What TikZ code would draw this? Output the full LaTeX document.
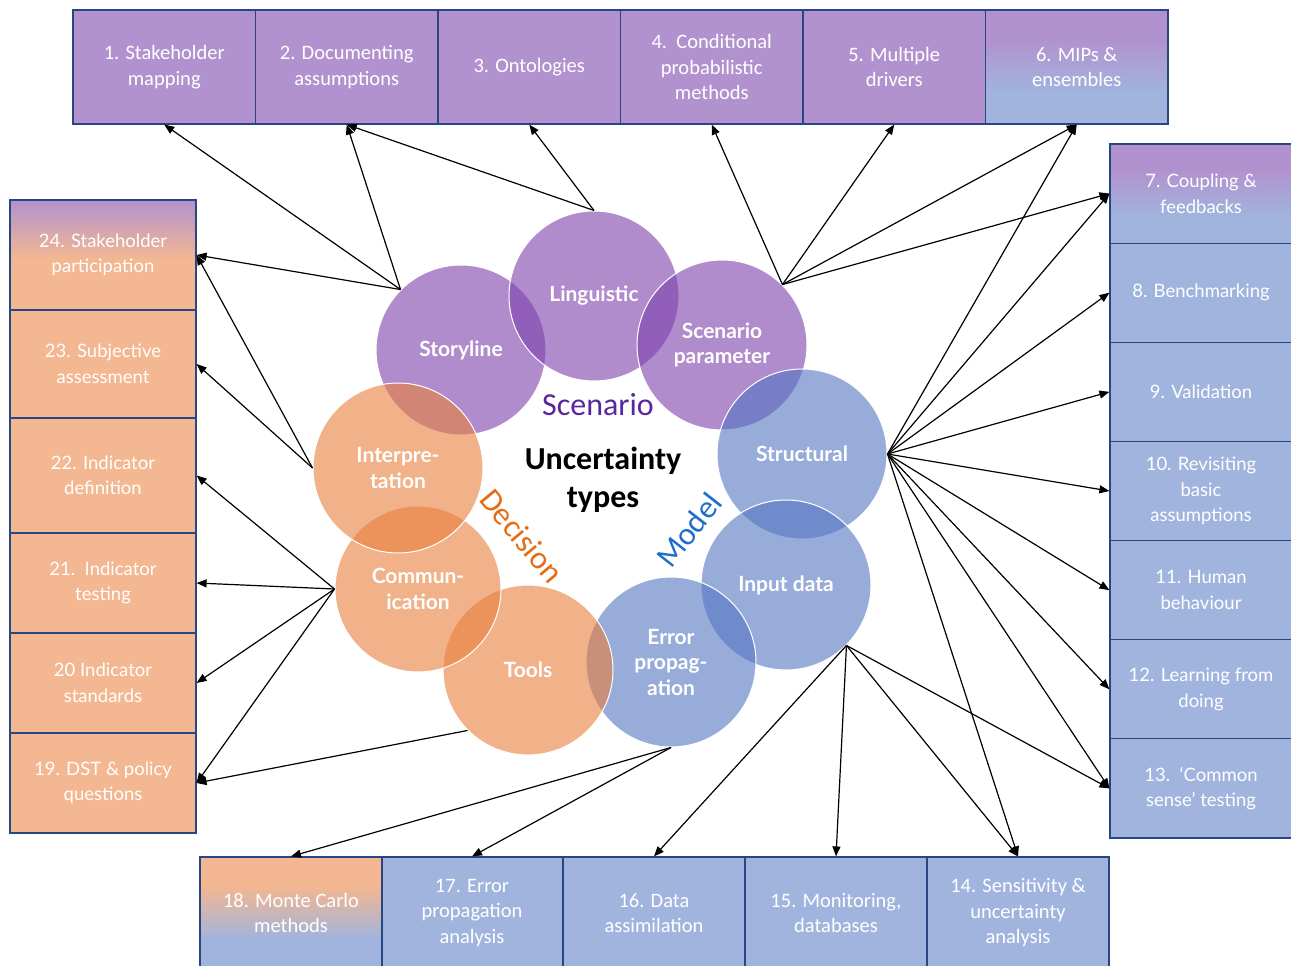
\documentclass[tikz,border=0pt]{standalone}
\usepackage{fontspec}
\setmainfont{Carlito}
\newfontfamily\sidefont{Lato}
\usetikzlibrary{arrows.meta}

\definecolor{boxpurple}{RGB}{178,146,206}
\definecolor{boxblue}{RGB}{160,180,222}
\definecolor{boxorange}{RGB}{243,183,145}
\definecolor{boxline}{RGB}{40,70,130}
\definecolor{cpurple}{RGB}{124,64,171}
\definecolor{cblue}{RGB}{83,117,194}
\definecolor{corange}{RGB}{232,126,60}
\definecolor{scentext}{RGB}{88,38,158}
\definecolor{dectext}{RGB}{228,108,20}
\definecolor{modtext}{RGB}{30,110,200}

\pgfdeclareverticalshading{purpleblue}{100bp}{color(0bp)=(boxblue); color(38bp)=(boxblue); color(62bp)=(boxpurple); color(100bp)=(boxpurple)}
\pgfdeclareverticalshading{purpleorange}{100bp}{color(0bp)=(boxorange); color(48bp)=(boxorange); color(75bp)=(boxpurple); color(100bp)=(boxpurple)}
\pgfdeclareverticalshading{orangeblue}{100bp}{color(0bp)=(boxblue); color(38bp)=(boxblue); color(62bp)=(boxorange); color(100bp)=(boxorange)}

\tikzset{every picture/.style={line width=0.75pt},
  basebox/.style={draw=boxline, line width=1.2pt, text=white, align=center, inner sep=0pt},
  topbox/.style={basebox, fill=boxpurple, minimum width=182.5pt, minimum height=114pt, font=\fontsize{20.5}{25.5}\selectfont},
  botbox/.style={basebox, fill=boxblue, minimum width=182pt, minimum height=112pt, font=\fontsize{20.5}{25.5}\selectfont},
  sidebox/.style={basebox, fill=#1, font=\sidefont\fontsize{18.5}{25.5}\selectfont},
  sidebox/.default=boxorange,
  ucircle/.style={circle, draw=white, line width=1pt, fill=#1, fill opacity=0.6, text opacity=1, text=white, minimum size=170pt, inner sep=0pt, align=center, font=\sidefont\bfseries\fontsize{21}{25.5}\selectfont},
  kind/.style={text=#1, font=\fontsize{32}{38}\selectfont, inner sep=0pt},
  arr/.style={-{Triangle[length=10pt,width=8pt]}, line width=1.2pt, black}
}

\begin{document}
\begin{tikzpicture}[x=1pt,y=1pt,yscale=-1,xscale=1]
    \useasboundingbox (0,0) rectangle (1291,966);

    % top row
    \node[topbox] (b1) at (164.25,67) {1. Stakeholder\\mapping};
    \node[topbox] (b2) at (346.75,67) {2. Documenting\\assumptions};
    \node[topbox] (b3) at (529.25,67) {3. Ontologies};
    \node[topbox] (b4) at (711.75,67) {4.\ \ Conditional\\probabilistic\\methods};
    \node[topbox] (b5) at (894.25,67) {5. Multiple\\drivers};
    \node[topbox, shade, shading=purpleblue] (b6) at (1076.75,67) {6. MIPs \&\\ensembles};

    % right column
    \node[sidebox=boxblue, minimum width=182pt, minimum height=99.14pt, shade, shading=purpleblue] (b7) at (1201,193.57) {7. Coupling \&\\feedbacks};
    \node[sidebox=boxblue, minimum width=182pt, minimum height=99.14pt] (b8) at (1201,292.71) {8. Benchmarking};
    \node[sidebox=boxblue, minimum width=182pt, minimum height=99.14pt] (b9) at (1201,391.86) {9. Validation};
    \node[sidebox=boxblue, minimum width=182pt, minimum height=99.14pt] (b10) at (1201,491) {10. Revisiting\\basic\\assumptions};
    \node[sidebox=boxblue, minimum width=182pt, minimum height=99.14pt] (b11) at (1201,590.14) {11. Human\\behaviour};
    \node[sidebox=boxblue, minimum width=182pt, minimum height=99.14pt] (b12) at (1201,689.29) {12. Learning from\\doing};
    \node[sidebox=boxblue, minimum width=182pt, minimum height=99.14pt] (b13) at (1201,788.43) {13.\ \ ‘Common\\sense’ testing};

    % bottom row
    \node[botbox] (b14) at (1018,913) {14. Sensitivity \&\\uncertainty\\analysis};
    \node[botbox] (b15) at (836,913) {15. Monitoring,\\databases};
    \node[botbox] (b16) at (654,913) {16. Data\\assimilation};
    \node[botbox] (b17) at (472,913) {17. Error\\propagation\\analysis};
    \node[botbox, shade, shading=orangeblue] (b18) at (291,913) {18. Monte Carlo\\methods};

    % left column
    \node[sidebox, minimum width=186pt, minimum height=100pt] (b19) at (103,783) {19. DST \& policy\\questions};
    \node[sidebox, minimum width=186pt, minimum height=100pt] (b20) at (103,683) {20 Indicator\\standards};
    \node[sidebox, minimum width=186pt, minimum height=100pt] (b21) at (103,583) {21.\ \ Indicator\\testing};
    \node[sidebox, minimum width=186pt, minimum height=115pt] (b22) at (103,475.5) {22. Indicator\\definition};
    \node[sidebox, minimum width=186pt, minimum height=108pt] (b23) at (103,364) {23. Subjective\\assessment};
    \node[sidebox, minimum width=186pt, minimum height=110pt, shade, shading=purpleorange] (b24) at (103,255) {24. Stakeholder\\participation};

    % uncertainty circles
    \node[ucircle=cpurple] (story) at (461,350) {Storyline};
    \node[ucircle=cpurple] (ling) at (594,296) {Linguistic};
    \node[ucircle=cpurple] (scen) at (722,345) {Scenario\\parameter};
    \node[ucircle=cblue] (struc) at (802,454) {Structural};
    \node[ucircle=cblue] (input) at (786,585) {Input data};
    \node[ucircle=cblue] (error) at (671,662) {Error\\propag-\\ation};
    \node[ucircle=corange] (tools) at (528,670) {Tools};
    \node[ucircle=corange, minimum size=166pt] (comm) at (418,589) {Commun-\\ication};
    \node[ucircle=corange] (interp) at (398,468) {Interpre-\\tation};

    % Text Node
    \node[align=center, inner sep=0pt, font=\fontsize{32}{38}\selectfont\bfseries] (title) at (603,480) {Uncertainty\\types};
    \node[kind=scentext] (scenlab) at (598,405) {Scenario};
    \node[kind=dectext, rotate=-50] (declab) at (522,536) {Decision};
    \node[kind=modtext, rotate=52] (modlab) at (689,530) {Model};

    % scenario connectors
    \draw[arr] (story.135) -- (b1.south);
    \draw[arr] (story.135) -- (b2.south);
    \draw[arr] (story.135) -- (b24.east);
    \draw[arr] (ling.north) -- (b2.south);
    \draw[arr] (ling.north) -- (b3.south);
    \draw[arr] (scen.45) -- (b4.south);
    \draw[arr] (scen.45) -- (b5.south);
    \draw[arr] (scen.45) -- (b6.south);
    \draw[arr] (scen.45) -- (b7.west);

    % model connectors
    \draw[arr] (struc.east) -- (b6.south);
    \draw[arr] (struc.east) -- (b7.west);
    \draw[arr] (struc.east) -- (b8.west);
    \draw[arr] (struc.east) -- (b9.west);
    \draw[arr] (struc.east) -- (b10.west);
    \draw[arr] (struc.east) -- (b11.west);
    \draw[arr] (struc.east) -- (b12.west);
    \draw[arr] (struc.east) -- (b13.west);
    \draw[arr] (struc.east) -- (b14.north);
    \draw[arr] (input.-45) -- (b13.west);
    \draw[arr] (input.-45) -- (b14.north);
    \draw[arr] (input.-45) -- (b15.north);
    \draw[arr] (input.-45) -- (b16.north);
    \draw[arr] (error.south) -- (b17.north);
    \draw[arr] (error.south) -- (b18.north);

    % decision connectors
    \draw[arr] (tools.225) -- (b19.east);
    \draw[arr] (comm.west) -- (b19.east);
    \draw[arr] (comm.west) -- (b20.east);
    \draw[arr] (comm.west) -- (b21.east);
    \draw[arr] (comm.west) -- (b22.east);
    \draw[arr] (interp.west) -- (b23.east);
    \draw[arr] (interp.west) -- (b24.east);

\end{tikzpicture}
\end{document}
